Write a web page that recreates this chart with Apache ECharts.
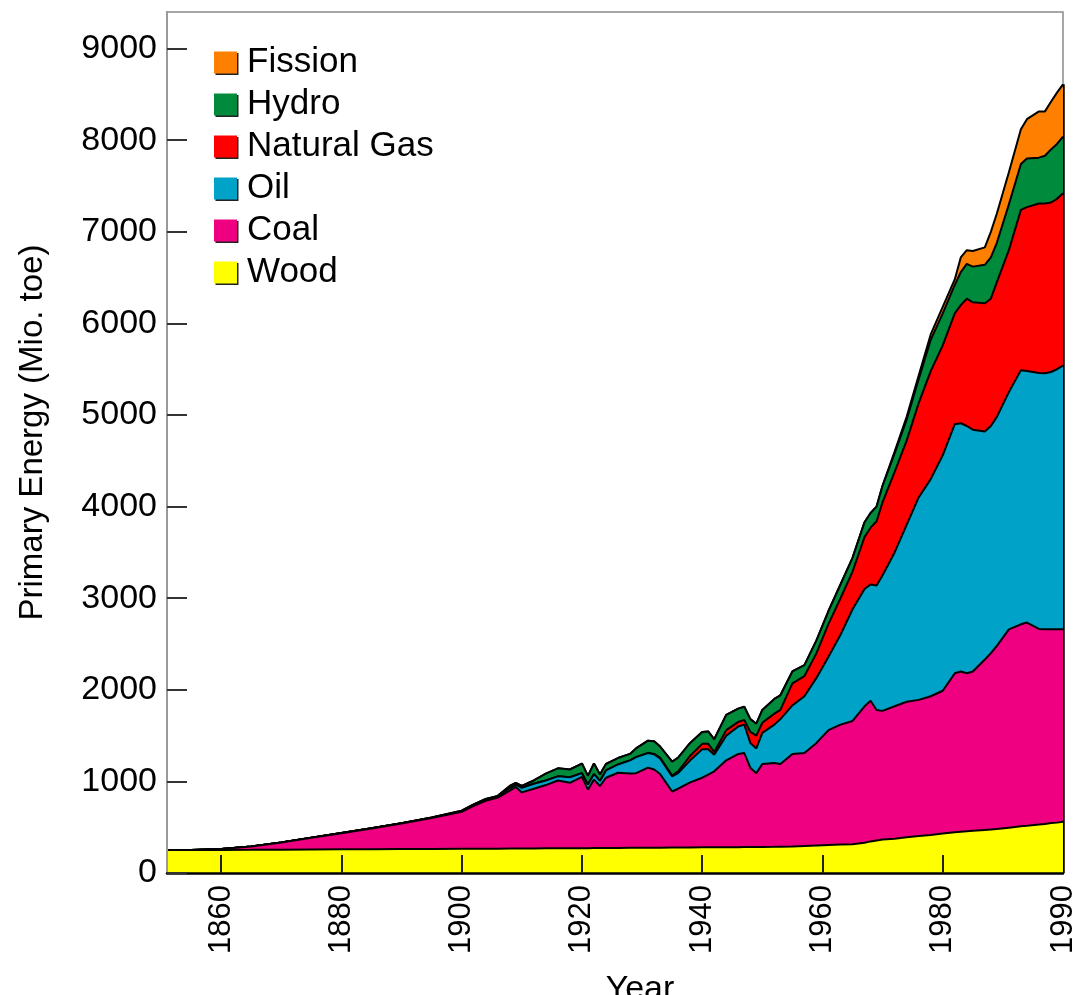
<!DOCTYPE html>
<html><head><meta charset="utf-8">
<script src="https://cdn.jsdelivr.net/npm/echarts@6/dist/echarts.min.js"></script>
<style>html,body{margin:0;padding:0;background:#fff}#c{width:1079px;height:995px}</style>
</head><body><div id="c"></div>
<script>
// x positions (years on the chart's linear scale)
const years = [1851,1855,1860,1865,1870,1875,1880,1885,1890,1895,1900,1902,1904,1906,1908,1909,1910,1912,1914,1916,1918,1920,1921,1922,1923,1924,1926,1928,1929,1931,1932,1933,1935,1936,1938,1940,1941,1942,1944,1946,1947,1948,1949,1950,1952,1953,1955,1957,1959,1961,1963,1965,1967,1968,1969,1970,1972,1974,1976,1978,1980,1982,1983,1984,1985,1987,1988,1989,1991,1993,1994,1996,1997,1998,1999,2000];
// Mio. toe per source (stacked from the bottom: wood, coal, oil, gas, hydro, fission)
const wood = [250,250,252,253,255,257,259,260,262,263,265,265,266,266,267,267,268,268,269,270,270,271,271,272,272,273,274,275,275,276,276,277,278,278,279,280,280,280,281,282,283,283,284,285,286,287,290,295,300,305,310,315,330,345,355,365,375,390,405,415,430,445,450,455,460,470,475,480,495,510,515,530,535,545,550,560];
const coal = [0,2,10,37,78,128,176,227,278,337,403,468,522,557,633,673,612,652,691,740,715,779,639,748,678,767,821,810,815,874,854,803,612,642,711,760,795,830,949,1018,1027,867,806,905,914,903,1010,1015,1120,1255,1310,1345,1490,1535,1425,1405,1445,1480,1485,1515,1560,1735,1750,1725,1740,1860,1925,2000,2165,2205,2219,2135,2127,2117,2112,2102];
const oil = [0,0,0,0,0,0,1,2,3,4,4,5,7,9,25,25,50,55,50,45,60,40,55,60,55,80,90,145,175,160,165,170,165,170,240,310,275,180,270,300,310,270,270,340,420,490,530,620,710,800,980,1220,1280,1270,1360,1480,1680,1930,2210,2370,2570,2720,2710,2700,2640,2490,2480,2500,2590,2775,2746,2795,2793,2808,2838,2878];
const gas = [0,0,0,0,0,0,0,0,0,0,0,0,0,0,0,0,0,0,0,0,0,0,0,0,0,0,0,0,0,2,5,10,10,20,50,60,60,30,60,50,50,120,140,110,120,100,240,220,270,360,400,410,570,620,700,800,880,920,1030,1180,1200,1210,1290,1390,1390,1400,1390,1470,1550,1750,1790,1850,1855,1850,1860,1880];
const hydro = [0,0,0,0,0,0,0,0,0,2,8,10,13,10,25,20,20,35,75,88,85,105,95,115,70,70,70,70,95,133,138,120,150,150,140,130,135,140,166,145,145,140,130,140,160,160,130,120,140,140,150,150,160,160,160,180,200,230,260,340,350,310,360,380,390,420,450,430,500,500,530,500,520,580,600,620];
const fission = [0,0,0,0,0,0,0,0,0,0,0,0,0,0,0,0,0,0,0,0,0,0,0,0,0,0,0,0,0,0,0,0,0,0,0,0,0,0,0,0,0,0,0,0,0,0,0,0,0,0,0,0,0,0,0,0,20,30,40,60,70,60,160,150,170,190,280,320,350,380,430,505,485,520,560,570];

const xTickPositions = [1860,1880,1900,1920,1940,1960,1980,2000];
const xTickLabels = ['1860','1880','1900','1920','1940','1960','1980','1990'];
const yTicks = [0,1000,2000,3000,4000,5000,6000,7000,8000,9000];

const seriesDefs = [
  {name:'Wood', data:wood, color:'#FFFF00'},
  {name:'Coal', data:coal, color:'#EE0080'},
  {name:'Oil', data:oil, color:'#00A2C8'},
  {name:'Natural Gas', data:gas, color:'#FF0000'},
  {name:'Hydro', data:hydro, color:'#008A3C'},
  {name:'Fission', data:fission, color:'#FF8000'}
];
// cumulative tops (stacking done here; each area is filled down to the axis and
// lower layers are drawn above upper ones)
const running = years.map(()=>0);
const cumulative = seriesDefs.map(d => d.data.map((v,k) => (running[k] += v)));
const lastIdx = years.length - 1;
const lastTotal = running[lastIdx];

const FONT = 'Liberation Sans, Arial, Helvetica, sans-serif';
const chart = echarts.init(document.getElementById('c'), null, {renderer:'canvas'});
const series = seriesDefs.map((d,i)=>({
  name:d.name, type:'line', z: 10 - i,
  data: years.map((y,k)=>[y, cumulative[i][k]]),
  showSymbol:false, symbol:'none', smooth:false,
  itemStyle:{color:d.color},
  lineStyle:{color:'#000', width:2},
  areaStyle:{color:d.color, opacity:1, origin:'start'},
  emphasis:{disabled:true},
  animation:false
}));
series[0].markLine = {
  silent:true, symbol:'none', label:{show:false},
  lineStyle:{color:'#000', width:2.5, type:'solid'},
  data:[[{coord:[years[lastIdx], 0]},{coord:[years[lastIdx], lastTotal]}]]
};

chart.setOption({
  animation:false,
  backgroundColor:'#fff',
  textStyle:{fontFamily:FONT},
  grid:{left:167, right:16, top:12, bottom:122, containLabel:false, outerBoundsMode:'none',
        show:true, borderColor:'#8a8a8a', borderWidth:1.5, backgroundColor:'transparent'},
  legend:{
    data:['Fission','Hydro','Natural Gas','Oil','Coal','Wood'],
    orient:'vertical', left:214, top:45, padding:0,
    icon:'rect', itemWidth:23, itemHeight:22, itemGap:7,
    itemStyle:{borderWidth:0, shadowColor:'#222', shadowOffsetX:1.5, shadowOffsetY:1.5, shadowBlur:0},
    textStyle:{fontSize:35, lineHeight:34, color:'#000', fontFamily:FONT, padding:[0,0,0,5]}
  },
  xAxis:{
    type:'value', min:1851, max:2000, z:20,
    name:'Year', nameLocation:'middle', nameGap:100,
    nameTextStyle:{fontSize:34, color:'#000', fontFamily:FONT, padding:[0,0,0,50]},
    axisLine:{show:true, lineStyle:{color:'#000', width:2.5}},
    axisTick:{show:true, inside:true, length:18, customValues:xTickPositions.slice(0,-1), lineStyle:{color:'#222', width:2}},
    axisLabel:{rotate:90, fontSize:31, color:'#000', margin:12, customValues:xTickPositions,
      formatter:(v)=>{const i = xTickPositions.indexOf(v); return i>=0 ? xTickLabels[i] : '';}},
    splitLine:{show:false}
  },
  yAxis:{
    type:'value', min:0, max:9400, z:20,
    name:'Primary Energy (Mio. toe)', nameLocation:'middle', nameGap:118,
    nameTextStyle:{fontSize:33, color:'#000', fontFamily:FONT, padding:[0,0,0,20]},
    axisLine:{show:true, lineStyle:{color:'#999', width:2}},
    axisTick:{show:true, inside:true, length:20, customValues:yTicks, lineStyle:{color:'#333', width:2}},
    axisLabel:{fontSize:34, color:'#000', margin:10, customValues:yTicks, formatter:(v)=>String(v)},
    splitLine:{show:false}
  },
  series:series
});
</script></body></html>
